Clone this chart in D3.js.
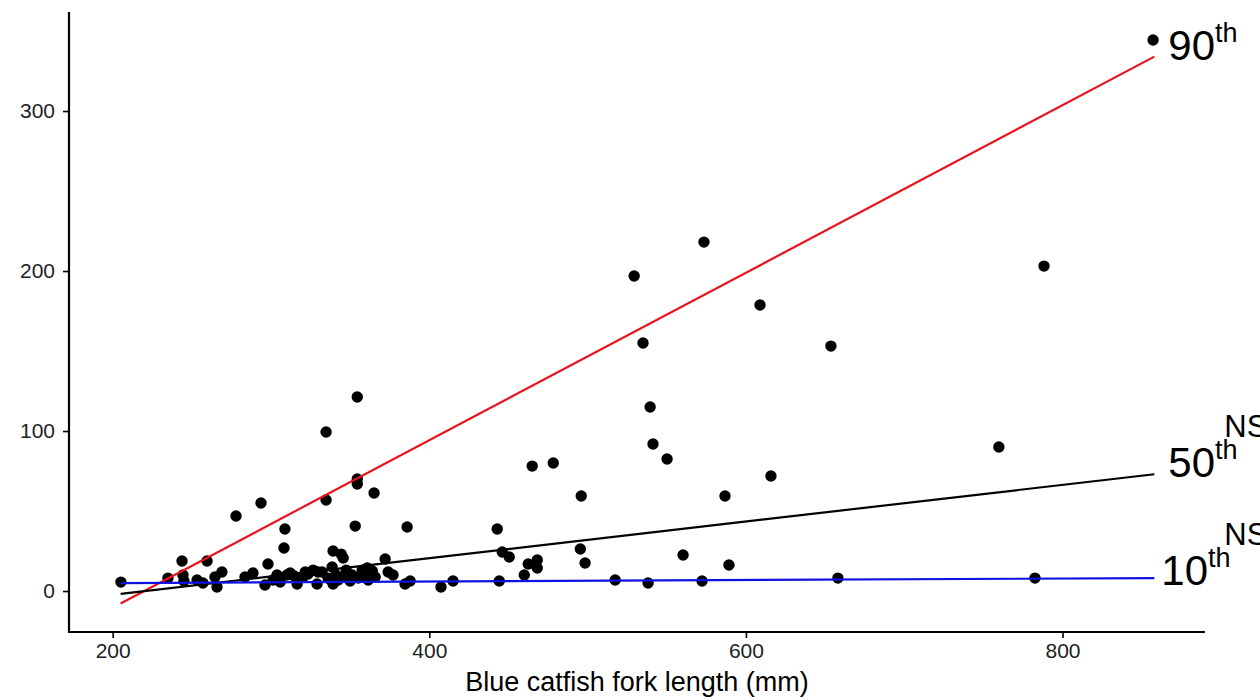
<!DOCTYPE html>
<html lang="en">
<head>
<meta charset="UTF-8">
<title>Blue catfish quantile regression</title>
<script src="https://d3js.org/d3.v7.min.js"></script>
<style>
    body { margin: 0; background: #fff; overflow: hidden; }
    svg { display: block; font-family: "Liberation Sans", Arial, sans-serif; }
    .tick text { fill: #222; }
</style>
</head>
<body>
<svg width="1260" height="700"></svg>
<script>
// fork length (mm) and response value
const forkLength = [
    205.2, 234.9, 243.8, 244.4, 245.0, 253.3, 257.0, 259.6, 264.6, 265.9,
    269.0, 277.9, 283.6, 288.6, 293.7, 296.2, 298.1, 301.3, 303.8, 308.2,
    308.8, 310.1, 314.6, 316.5, 317.1, 320.3, 323.4, 326.6, 329.1, 329.7,
    332.3, 334.8, 334.8, 336.0, 338.6, 339.2, 339.2, 341.1, 344.3, 345.6,
    345.6, 350.0, 353.2, 354.5, 354.5, 354.5, 355.1, 357.6, 359.5, 360.8,
    361.4, 364.0, 365.1, 365.8, 372.1, 374.0, 377.1, 384.7, 386.0, 387.9,
    407.4, 415.0, 312.1, 321.6, 342.4, 351.3, 357.6, 337.9, 347.5, 305.8,
    442.9, 446.1, 450.5, 444.2, 460.0, 462.5, 468.2, 468.2, 465.0, 478.3,
    495.4, 496.0, 498.4, 517.4, 529.4, 535.0, 538.2, 539.5, 541.3, 550.2,
    560.3, 572.3, 573.5, 586.8, 589.3, 608.9, 615.8, 653.7, 658.1, 759.8,
    782.6, 788.3, 857.2
];
const response = [
    5.6, 8.1, 18.8, 10.0, 6.3, 6.9, 5.0, 18.8, 8.8, 2.5,
    11.9, 46.9, 8.8, 11.3, 55.0, 3.8, 16.9, 6.9, 10.0, 26.9,
    38.8, 10.0, 9.4, 4.4, 7.5, 8.8, 10.6, 13.1, 4.4, 11.9,
    11.9, 99.4, 56.9, 8.1, 15.0, 4.4, 25.0, 10.0, 23.1, 20.6,
    8.8, 6.3, 40.6, 121.3, 70.0, 66.9, 8.1, 13.1, 10.0, 14.4,
    6.9, 12.5, 61.3, 8.8, 20.0, 11.9, 10.0, 4.4, 40.0, 6.3,
    2.5, 6.3, 11.3, 11.9, 6.9, 10.0, 8.8, 6.9, 13.1, 5.6,
    38.8, 24.4, 21.3, 6.3, 10.0, 16.9, 19.4, 14.4, 78.1, 80.0,
    26.3, 59.4, 17.5, 6.9, 196.9, 155.0, 5.0, 115.0, 91.9, 82.5,
    22.5, 6.3, 218.1, 59.4, 16.3, 178.8, 71.9, 153.1, 8.1, 90.0,
    8.1, 203.1, 344.4
];

// quantile fits, evaluated at the ends of the length range
const fitLength = [205, 858];
const quantiles = ["90", "50", "10"];
const fitValues = [[-7.8, 334], [-1.8, 73], [5, 8.1]];
const fitColors = ["#e8141b", "#000000", "#1010e0"];
const significance = ["", "NS", "NS"];

const xTicks = [200, 400, 600, 800];
const yTicks = [0, 100, 200, 300];

const svg = d3.select("svg");
const m = { left: 69, right: 1205, top: 12, bottom: 632 };

const x = d3.scaleLinear().domain([172.4, 890]).range([m.left, m.right]);
const y = d3.scaleLinear().domain([-25.6, 361.9]).range([m.bottom, m.top]);

// axes
const xAxis = svg.append("g")
    .attr("transform", `translate(0,${m.bottom})`)
    .call(d3.axisBottom(x).tickValues(xTicks).tickSize(6).tickPadding(5));
const yAxis = svg.append("g")
    .attr("transform", `translate(${m.left},0)`)
    .call(d3.axisLeft(y).tickValues(yTicks).tickSize(6).tickPadding(8));

[xAxis, yAxis].forEach(a => {
    a.select(".domain").remove();
    a.selectAll(".tick line").attr("stroke", "#000").attr("stroke-width", 1.6);
    a.selectAll(".tick text").attr("font-size", 21);
});

svg.append("line")
    .attr("x1", m.left).attr("x2", m.left).attr("y1", m.top).attr("y2", m.bottom + 1)
    .attr("stroke", "#000").attr("stroke-width", 2.2);
svg.append("line")
    .attr("x1", m.left - 1).attr("x2", m.right).attr("y1", m.bottom).attr("y2", m.bottom)
    .attr("stroke", "#000").attr("stroke-width", 2.2);

svg.append("text")
    .attr("x", (m.left + m.right) / 2).attr("y", 691)
    .attr("text-anchor", "middle")
    .attr("font-size", 27)
    .attr("fill", "#000")
    .text("Blue catfish fork length (mm)");

// points
svg.append("g")
    .selectAll("circle")
    .data(forkLength.map((d, i) => [d, response[i]]))
    .join("circle")
    .attr("cx", d => x(d[0]))
    .attr("cy", d => y(d[1]))
    .attr("r", 5.7)
    .attr("fill", "#000");

// quantile lines
const line = d3.line().x(d => x(d[0])).y(d => y(d[1]));
quantiles.forEach((q, i) => {
    svg.append("path")
        .datum(fitLength.map((d, j) => [d, fitValues[i][j]]))
        .attr("d", line)
        .attr("fill", "none")
        .attr("stroke", fitColors[i])
        .attr("stroke-width", 2.2);
});

// labels at the line ends
quantiles.forEach((q, i) => {
    const xe = x(fitLength[1]);
    const ye = y(fitValues[i][1]);
    const low = q === "10";
    const t = svg.append("text")
        .attr("x", xe + (low ? 7 : 14))
        .attr("y", ye + (low ? 7 : 3))
        .attr("fill", "#000")
        .attr("font-size", 42);
    t.append("tspan").text(q);
    t.append("tspan").attr("font-size", 27).attr("dy", -18).text("th");
    if (significance[i]) {
        svg.append("text")
            .attr("x", xe + 70)
            .attr("y", ye + (low ? -33 : -37))
            .attr("font-size", 31)
            .attr("fill", "#000")
            .text(significance[i]);
    }
});
</script>
</body>
</html>
